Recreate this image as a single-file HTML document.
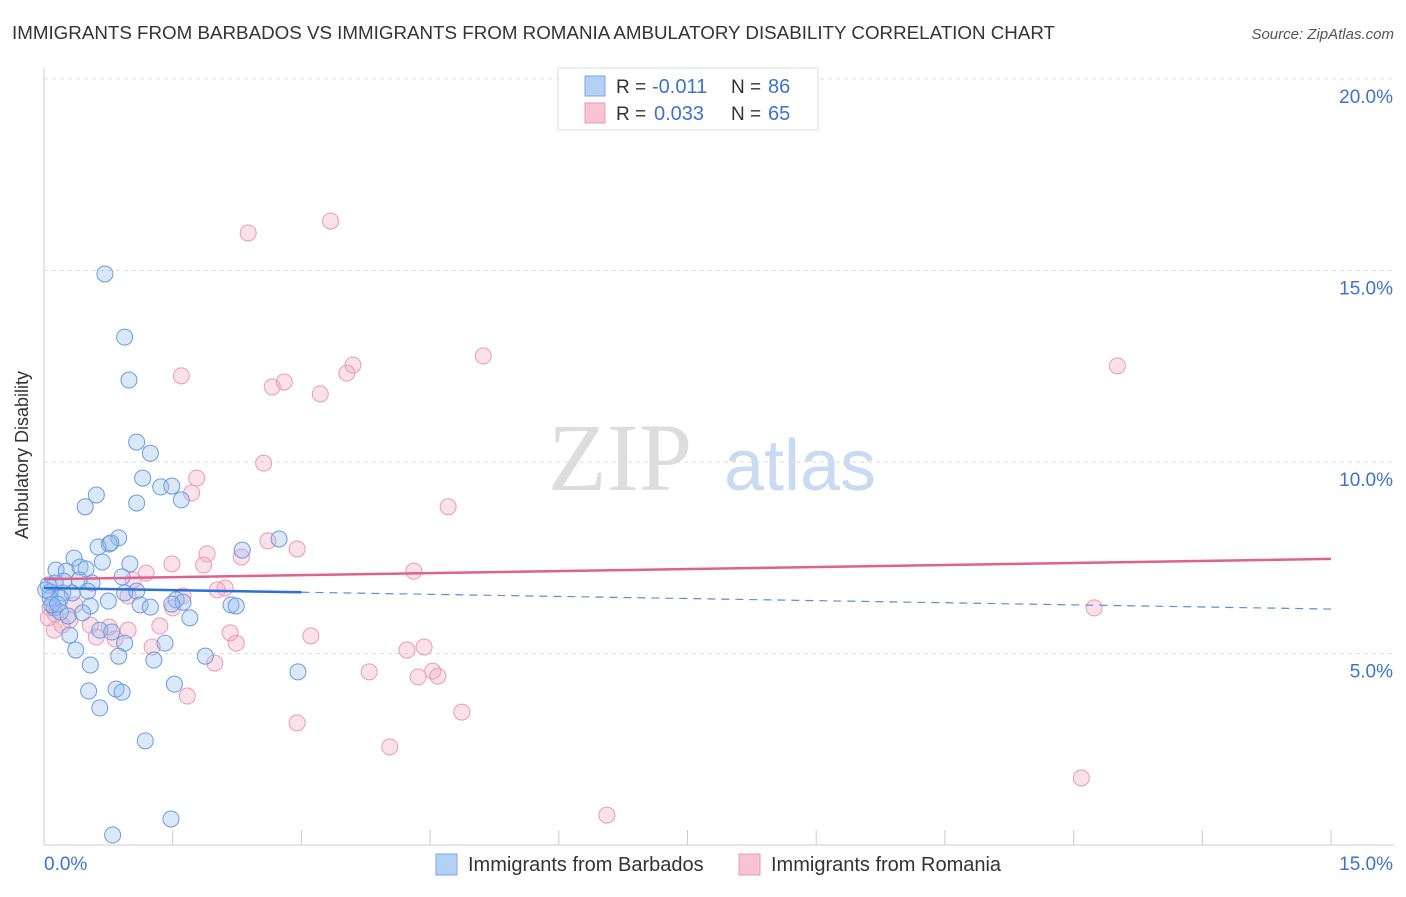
<!DOCTYPE html>
<html><head><meta charset="utf-8"><style>
body{margin:0;background:#fff;font-family:"Liberation Sans",sans-serif;}
svg text{font-family:"Liberation Sans",sans-serif;}
</style></head><body>
<svg id="chart" width="1406" height="892">
<text x="12" y="39" font-size="18" fill="#333" textLength="1043" lengthAdjust="spacingAndGlyphs">IMMIGRANTS FROM BARBADOS VS IMMIGRANTS FROM ROMANIA AMBULATORY DISABILITY CORRELATION CHART</text>
<text x="1394" y="39" font-size="15" fill="#555" font-style="italic" text-anchor="end">Source: ZipAtlas.com</text>
<text x="620" y="490" font-size="96" fill="#ddd" text-anchor="middle" style="font-family:'Liberation Serif',serif">ZIP</text>
<text x="800" y="490" font-size="72" fill="#c9daf2" text-anchor="middle">atlas</text>
<g id="grid"></g>
<g id="axes"></g>
<g id="marks"></g>
<text x="28" y="455" font-size="18" fill="#333" text-anchor="middle" transform="rotate(-90 28 455)">Ambulatory Disability</text>
<g>
<rect x="558" y="68" width="260" height="62" fill="#fff" stroke="#ddd"/>
<rect x="585" y="76" width="20" height="20" fill="#b5d0f5" stroke="#7aa6e6"/>
<rect x="585" y="103" width="20" height="20" fill="#f8c4d4" stroke="#ec9ab3"/>
<text x="616" y="93" font-size="19" fill="#333">R =</text>
<text x="652" y="93" font-size="20" fill="#3d73cf">-0.011</text>
<text x="731" y="93" font-size="19" fill="#333">N =</text>
<text x="768" y="93" font-size="20" fill="#3d73cf">86</text>
<text x="616" y="120" font-size="19" fill="#333">R =</text>
<text x="654" y="120" font-size="20" fill="#3d73cf">0.033</text>
<text x="731" y="120" font-size="19" fill="#333">N =</text>
<text x="768" y="120" font-size="20" fill="#3d73cf">65</text>
</g>
<g>
<rect x="436" y="854" width="21" height="21" fill="#b5d0f5" stroke="#7aa6e6"/>
<text x="468" y="871" font-size="20" fill="#333">Immigrants from Barbados</text>
<rect x="739" y="854" width="21" height="21" fill="#f8c4d4" stroke="#ec9ab3"/>
<text x="771" y="871" font-size="20" fill="#333">Immigrants from Romania</text>
</g>
</svg>
<script>
const xTickVals=[0,1.5,3,4.5,6,7.5,9,10.5,12,13.5,15];
const yTickVals=[5,10,15,20];
const yTickLabels=["5.0%","10.0%","15.0%","20.0%"];
const xEndLabels=["0.0%","15.0%"];
const barbadosX=[0.71,0.94,0.99,1.08,1.24,1.15,1.36,1.49,1.60,1.08,0.61,0.48,0.87,0.76,0.63,0.78,1.00,0.68,0.35,0.14,0.26,0.42,0.49,0.91,0.56,0.41,0.23,0.13,0.05,0.07,0.22,0.33,0.51,0.94,1.08,0.75,0.54,0.19,0.12,0.19,0.28,0.45,1.12,1.24,1.54,1.62,1.49,2.18,2.24,1.70,2.31,2.74,0.65,0.79,0.94,0.30,1.41,0.37,0.87,1.28,1.88,0.54,2.96,0.84,0.91,0.52,1.52,0.65,1.18,0.80,1.48,0.07,0.09,0.16,0.02];
const barbadosY=[14.91,13.26,12.14,10.52,10.23,9.58,9.35,9.37,9.01,8.93,9.14,8.83,8.02,7.86,7.78,7.89,7.34,7.39,7.49,7.18,7.15,7.26,7.21,7.00,6.84,6.92,6.89,6.84,6.79,6.61,6.58,6.58,6.63,6.58,6.63,6.37,6.24,6.45,6.19,6.08,5.98,6.06,6.27,6.21,6.40,6.34,6.29,6.27,6.24,5.93,7.70,7.99,5.61,5.56,5.27,5.48,5.27,5.09,4.93,4.83,4.93,4.70,4.52,4.07,3.99,4.02,4.20,3.58,2.72,0.26,0.68,6.45,6.27,6.29,6.66];
const romaniaX=[3.34,2.38,5.12,12.51,3.60,3.53,1.60,2.80,2.66,3.22,2.56,1.78,1.72,4.71,2.61,2.95,1.90,2.30,1.49,4.31,1.19,1.04,1.86,2.11,2.02,1.62,0.98,1.50,12.24,0.07,0.13,0.30,0.54,0.76,0.98,1.35,2.17,2.24,3.11,0.61,0.83,1.26,4.43,4.23,1.99,3.79,4.53,4.59,4.36,1.67,4.87,2.95,4.03,12.09,6.56,0.12,0.21,0.05,0.36];
const romaniaY=[16.29,15.98,12.77,12.51,12.53,12.32,12.25,12.09,11.96,11.78,9.97,9.58,9.19,8.83,7.94,7.73,7.60,7.52,7.34,7.15,7.10,6.92,7.31,6.71,6.66,6.50,6.50,6.19,6.19,6.19,6.03,5.87,5.74,5.69,5.61,5.72,5.54,5.27,5.46,5.43,5.38,5.17,5.17,5.09,4.75,4.52,4.54,4.41,4.39,3.89,3.47,3.19,2.56,1.75,0.78,5.61,5.74,5.93,6.27];
const barbadosTrend=[6.71,6.16];
const romaniaTrend=[6.94,7.47];
const NS="http://www.w3.org/2000/svg";
const X=v=>44+v*(1287/15);
const Y=v=>845-v*38.3;
function mk(t,a,p){const e=document.createElementNS(NS,t);for(const k in a)e.setAttribute(k,a[k]);p.appendChild(e);return e;}
const grid=document.getElementById('grid'),axes=document.getElementById('axes'),marks=document.getElementById('marks');
yTickVals.forEach((v,i)=>{
 const l=mk('line',{x1:44,x2:1394,y1:Y(v),y2:Y(v),stroke:'#ddd','stroke-dasharray':'4,4'},grid);
 
 
 const t=mk('text',{x:1393,y:Y(v)+24,'font-size':19,fill:'#3d73cf','text-anchor':'end'},axes);
 t.textContent=yTickLabels[i];
 
 
});
const ya=mk('line',{x1:44,x2:44,y1:68,y2:845,stroke:'#ccc'},axes);


const xa=mk('line',{x1:44,x2:1394,y1:845,y2:845,stroke:'#ccc'},axes);


xTickVals.forEach(v=>{
 const t=mk('line',{x1:X(v),x2:X(v),y1:830,y2:845,stroke:'#ccc'},axes);
 
 
});
const xl0=mk('text',{x:44,y:870,'font-size':19,fill:'#3d73cf'},axes);xl0.textContent=xEndLabels[0];


const xl1=mk('text',{x:1393,y:870,'font-size':19,fill:'#3d73cf','text-anchor':'end'},axes);xl1.textContent=xEndLabels[1];


romaniaX.forEach((x,i)=>{
 const c=mk('circle',{cx:X(x),cy:Y(romaniaY[i]),r:8,fill:'rgba(244,170,195,0.35)',stroke:'#ec9ab3','stroke-width':1},marks);
 
 
});
barbadosX.forEach((x,i)=>{
 const c=mk('circle',{cx:X(x),cy:Y(barbadosY[i]),r:8,fill:'rgba(150,190,240,0.35)',stroke:'#6b9be0','stroke-width':1},marks);
 
 
});
const bAt=v=>barbadosTrend[0]+(barbadosTrend[1]-barbadosTrend[0])*v/15;
const t1=mk('line',{x1:X(0),y1:Y(bAt(0)),x2:X(3),y2:Y(bAt(3)),stroke:'#2f6fd6','stroke-width':2.5},marks);


const t2=mk('line',{x1:X(3),y1:Y(bAt(3)),x2:X(15),y2:Y(bAt(15)),stroke:'#5a8ee0','stroke-width':1.2,'stroke-dasharray':'8,6'},marks);


const t3=mk('line',{x1:X(0),y1:Y(romaniaTrend[0]),x2:X(15),y2:Y(romaniaTrend[1]),stroke:'#e0608e','stroke-width':2.5},marks);


</script>
</body></html>
